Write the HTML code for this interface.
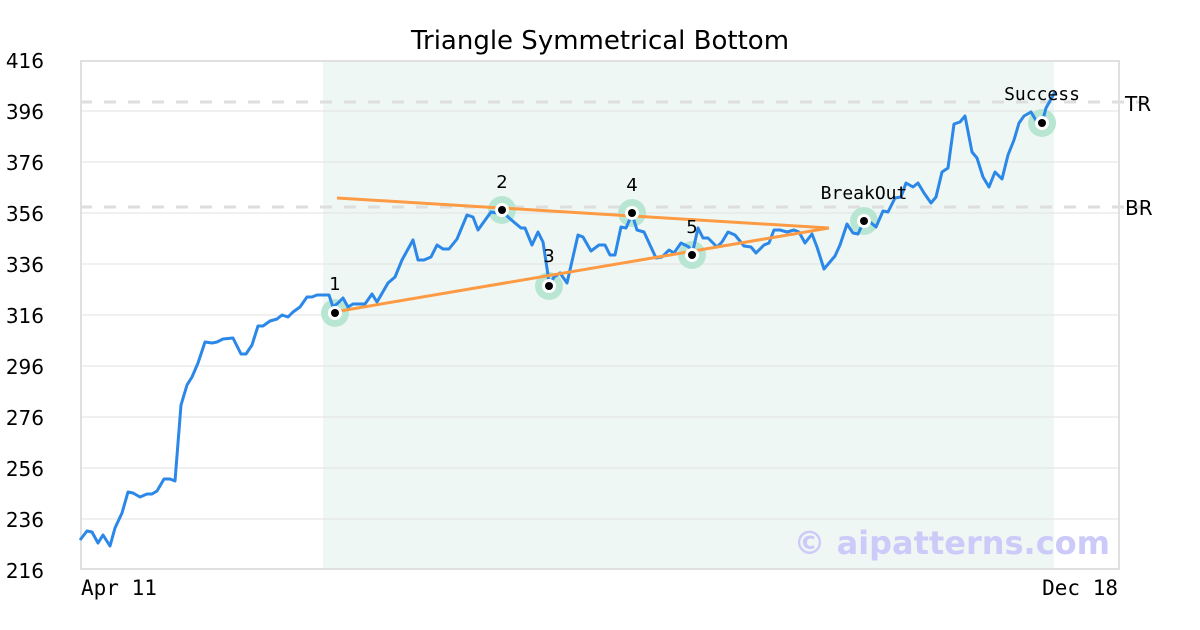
<!DOCTYPE html>
<html><head><meta charset="utf-8"><style>
body{margin:0;background:#fff;}
svg{display:block;font-family:"DejaVu Sans","Liberation Sans",sans-serif;}
</style></head><body>
<svg width="1200" height="630" viewBox="0 0 1200 630" xmlns="http://www.w3.org/2000/svg">
<rect width="1200" height="630" fill="#fff"/>
<text x="600" y="49" font-size="26" text-anchor="middle" fill="#000">Triangle Symmetrical Bottom</text>
<rect x="323" y="60" width="731" height="510" fill="#eff7f4"/>
<g stroke="#e0e0e0" stroke-width="1">
<line x1="80" x2="1120" y1="111" y2="111"/><line x1="80" x2="1120" y1="162" y2="162"/>
<line x1="80" x2="1120" y1="213" y2="213"/><line x1="80" x2="1120" y1="264" y2="264"/>
<line x1="80" x2="1120" y1="315" y2="315"/><line x1="80" x2="1120" y1="366" y2="366"/>
<line x1="80" x2="1120" y1="417" y2="417"/><line x1="80" x2="1120" y1="468" y2="468"/>
<line x1="80" x2="1120" y1="519" y2="519"/>
</g>
<g stroke="#dedede" stroke-width="3" stroke-dasharray="12,12">
<line x1="80" x2="1160" y1="102" y2="102"/><line x1="80" x2="1160" y1="207" y2="207"/>
</g>
<rect x="81" y="61" width="1038" height="508" fill="none" stroke="#e0e0e0" stroke-width="2"/>
<g font-size="20" fill="#000" text-anchor="end">
<text x="44" y="68">416</text><text x="44" y="119">396</text><text x="44" y="170">376</text>
<text x="44" y="221">356</text><text x="44" y="272">336</text><text x="44" y="323">316</text>
<text x="44" y="374">296</text><text x="44" y="425">276</text><text x="44" y="476">256</text>
<text x="44" y="527">236</text><text x="44" y="578">216</text>
</g>
<text x="1125" y="111" font-size="20">TR</text>
<text x="1125" y="215" font-size="20">BR</text>
<g font-family="'DejaVu Sans Mono','Liberation Mono',monospace" font-size="21" fill="#000">
<text x="81" y="595">Apr 11</text>
<text x="1118" y="595" text-anchor="end">Dec 18</text>
</g>
<text x="1110" y="554" font-size="32" font-weight="bold" fill="#cccaf8" text-anchor="end">© aipatterns.com</text>
<g fill="#b9e6d3">
<circle cx="335" cy="313" r="14"/><circle cx="502" cy="210" r="14"/><circle cx="549" cy="286" r="14"/>
<circle cx="632" cy="213" r="14"/><circle cx="692" cy="255" r="14"/><circle cx="864" cy="221" r="14"/>
<circle cx="1042" cy="123" r="14"/>
</g>
<polyline fill="none" stroke="#2b87e8" stroke-width="3" stroke-linejoin="round" points="80,540 87,531 92,532 98,543 103,535 110,546 115,528 122,513 128,492 133,493 140,497 147,494 152,494 157,491 164,479 170,479 175,481 181,405 187,385 192,377 198,363 205,342 212,343 217,342 223,339 233,338 241,354 246,354 252,345 258,326 263,326 270,321 277,319 282,315 288,317 293,312 300,307 307,297 312,297 317,295 329,295 333,307 338,303 343,298 348,307 353,304 365,304 372,294 377,302 388,283 395,277 402,260 413,240 418,260 424,260 431,257 437,245 443,249 449,249 457,239 467,215 473,217 478,230 483,223 491,212 497,213 502,210 508,217 515,223 521,228 525,228 532,245 538,232 543,242 548,275 549,286 554,277 560,273 567,283 578,235 583,237 591,251 599,245 605,245 610,255 615,255 621,227 626,228 632,214 637,230 644,232 656,258 662,257 669,250 674,253 681,243 689,247 692,255 698,228 703,238 708,238 713,243 717,247 722,242 728,232 735,235 744,246 751,247 756,253 764,245 769,243 774,230 780,230 787,232 794,230 799,232 805,243 812,234 817,247 824,269 835,256 840,245 847,224 853,233 858,234 864,221 870,222 876,227 883,211 888,212 895,198 901,197 906,183 913,187 918,183 924,193 931,203 936,197 942,172 948,168 954,124 960,122 965,116 972,152 977,158 983,177 989,187 995,172 1002,179 1008,155 1014,140 1019,123 1024,116 1031,112 1037,122 1042,123 1046,108 1055,92"/>
<g stroke="#fd9a44" stroke-width="3">
<line x1="337" y1="198" x2="829" y2="228"/>
<line x1="340" y1="311" x2="829" y2="228"/>
</g>
<g fill="#fff">
<circle cx="335" cy="313" r="7"/><circle cx="502" cy="210" r="7"/><circle cx="549" cy="286" r="7"/>
<circle cx="632" cy="213" r="7"/><circle cx="692" cy="255" r="7"/><circle cx="864" cy="221" r="7"/>
<circle cx="1042" cy="123" r="7"/>
</g>
<g fill="#000">
<circle cx="335" cy="313" r="4"/><circle cx="502" cy="210" r="4"/><circle cx="549" cy="286" r="4"/>
<circle cx="632" cy="213" r="4"/><circle cx="692" cy="255" r="4"/><circle cx="864" cy="221" r="4"/>
<circle cx="1042" cy="123" r="4"/>
</g>
<g font-size="18" fill="#000" text-anchor="middle">
<text x="335" y="290">1</text><text x="502" y="188">2</text><text x="549" y="262">3</text>
<text x="632" y="191">4</text><text x="692" y="233">5</text>
</g>
<g font-family="'DejaVu Sans Mono','Liberation Mono',monospace" font-size="18" fill="#000" text-anchor="middle">
<text x="864" y="199">BreakOut</text><text x="1042" y="100">Success</text>
</g>
</svg>
</body></html>
